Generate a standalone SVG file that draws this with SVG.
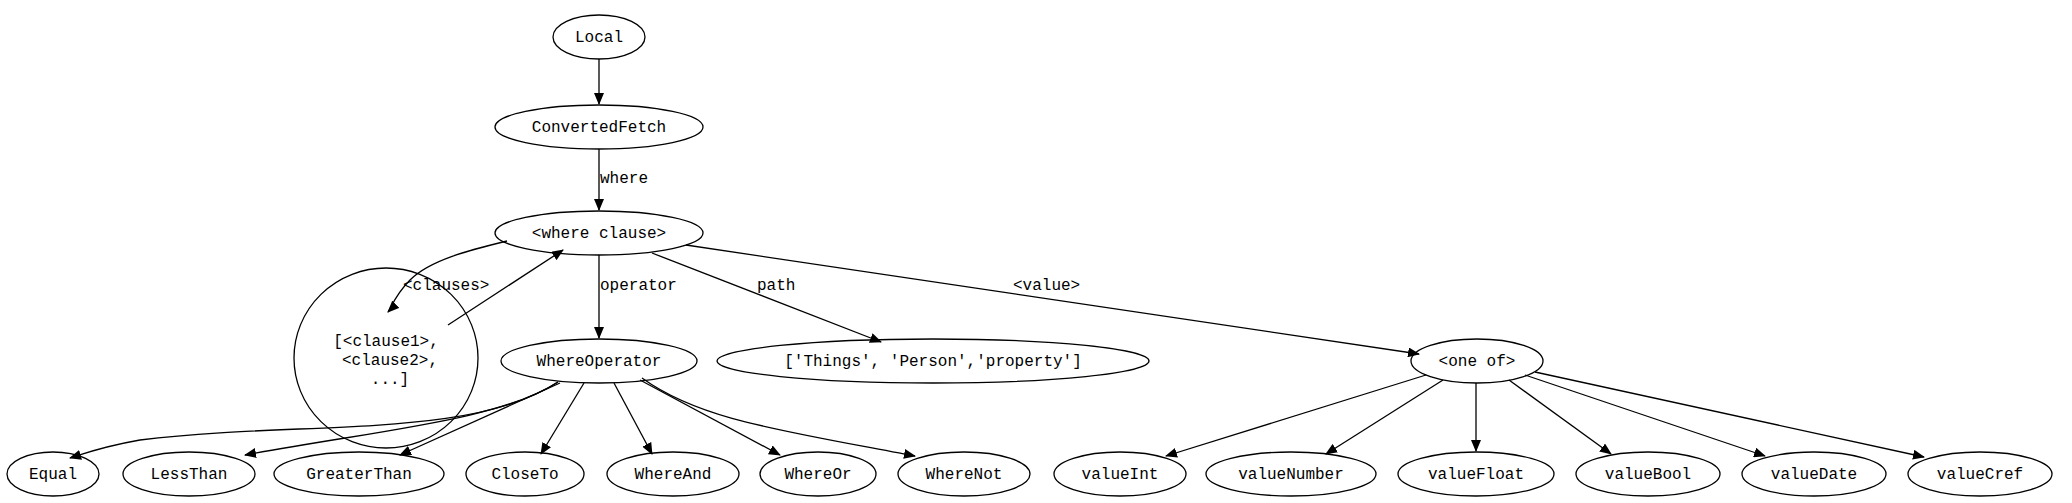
<svg xmlns="http://www.w3.org/2000/svg" width="2072" height="503" viewBox="0 0 2072 503">
<style>
ellipse{fill:none;stroke:#000;stroke-width:1.3}
text{font-family:"Liberation Mono",monospace;font-size:16px;fill:#000;text-anchor:middle}
.e path{fill:none;stroke:#000;stroke-width:1.3;marker-end:url(#a)}
.l{text-anchor:start}
</style>
<defs><marker id="a" markerWidth="12" markerHeight="10" refX="11" refY="5" orient="auto" markerUnits="userSpaceOnUse"><path d="M0,0 L12,5 L0,10 Z" fill="#000"/></marker></defs>
<rect width="2072" height="503" fill="#fff"/>
<g class="e">
<path d="M599,59 V104"/>
<path d="M599,149 V210"/>
<path d="M508,482 C480,485 430,480 384,484" style="display:none"/>
<path d="M507,241 C470,250 430,260 410,280 C395,295 390,310 388,312"/>
<path d="M448,325 L563,250"/>
<path d="M599,255 V338"/>
<path d="M652,253 L881,342"/>
<path d="M686,245 L1419,354"/>
<path d="M558,382 C470,440 300,420 140,440 C100,447 80,455 70,458"/>
<path d="M558,382 C500,420 380,430 245,455"/>
<path d="M560,383 L400,455"/>
<path d="M584,383 L541,454"/>
<path d="M614,383 L652,454"/>
<path d="M640,380 L780,455"/>
<path d="M642,378 C700,420 780,430 915,456"/>
<path d="M1426,375 L1166,456"/>
<path d="M1443,380 L1326,454"/>
<path d="M1476,383 V451"/>
<path d="M1509,380 L1611,454"/>
<path d="M1525,375 L1765,456"/>
<path d="M1535,372 L1924,457"/>
</g>
<g id="local"><ellipse cx="599" cy="37" rx="46" ry="22"/><text x="599" y="42">Local</text></g>
<g id="cf"><ellipse cx="599" cy="127" rx="104" ry="22"/><text x="599" y="132">ConvertedFetch</text></g>
<g id="wc"><ellipse cx="599" cy="233" rx="104" ry="22"/><text x="599" y="238">&lt;where clause&gt;</text></g>
<g id="cl"><ellipse cx="386" cy="358" rx="92" ry="90"/><text x="386" y="346">[&lt;clause1&gt;,</text><text x="390" y="365">&lt;clause2&gt;,</text><text x="390" y="384">...]</text></g>
<g id="wo"><ellipse cx="599" cy="361" rx="98" ry="22"/><text x="599" y="366">WhereOperator</text></g>
<g id="path"><ellipse cx="933" cy="361" rx="216" ry="22"/><text x="933" y="366">['Things', 'Person','property']</text></g>
<g id="oneof"><ellipse cx="1477" cy="361" rx="66" ry="22"/><text x="1477" y="366">&lt;one of&gt;</text></g>
<g id="eq"><ellipse cx="53" cy="474" rx="46" ry="22"/><text x="53" y="479">Equal</text></g>
<g id="lt"><ellipse cx="189" cy="474" rx="66" ry="22"/><text x="189" y="479">LessThan</text></g>
<g id="gt"><ellipse cx="359" cy="474" rx="85" ry="22"/><text x="359" y="479">GreaterThan</text></g>
<g id="ct"><ellipse cx="525" cy="474" rx="59" ry="22"/><text x="525" y="479">CloseTo</text></g>
<g id="wa"><ellipse cx="673" cy="474" rx="66" ry="22"/><text x="673" y="479">WhereAnd</text></g>
<g id="wor"><ellipse cx="818" cy="474" rx="58" ry="22"/><text x="818" y="479">WhereOr</text></g>
<g id="wn"><ellipse cx="964" cy="474" rx="66" ry="22"/><text x="964" y="479">WhereNot</text></g>
<g id="vi"><ellipse cx="1120" cy="474" rx="66" ry="22"/><text x="1120" y="479">valueInt</text></g>
<g id="vn"><ellipse cx="1291" cy="474" rx="85" ry="22"/><text x="1291" y="479">valueNumber</text></g>
<g id="vf"><ellipse cx="1476" cy="474" rx="78" ry="22"/><text x="1476" y="479">valueFloat</text></g>
<g id="vb"><ellipse cx="1648" cy="474" rx="72" ry="22"/><text x="1648" y="479">valueBool</text></g>
<g id="vd"><ellipse cx="1814" cy="474" rx="72" ry="22"/><text x="1814" y="479">valueDate</text></g>
<g id="vc"><ellipse cx="1980" cy="474" rx="72" ry="22"/><text x="1980" y="479">valueCref</text></g>
<g id="labels">
<text class="l" x="600" y="183">where</text>
<text class="l" x="403" y="290">&lt;clauses&gt;</text>
<text class="l" x="600" y="290">operator</text>
<text class="l" x="757" y="290">path</text>
<text class="l" x="1013" y="290">&lt;value&gt;</text>
</g>
</svg>
